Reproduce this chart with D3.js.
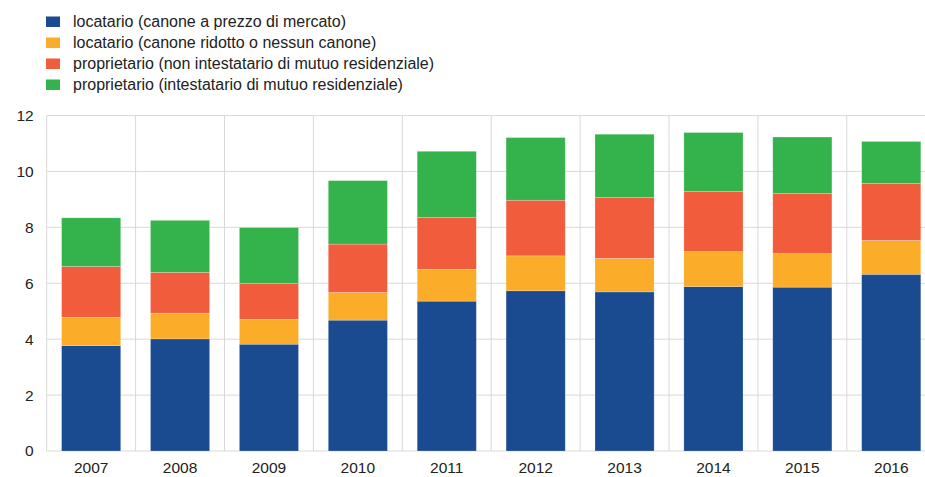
<!DOCTYPE html>
<html>
<head>
<meta charset="utf-8">
<script src="https://cdn.jsdelivr.net/npm/d3@7"></script>
<style>
  body { margin: 0; background: #fff; }
  svg { display: block; overflow: hidden; }
  text { font-family: "Liberation Sans", Arial, sans-serif; fill: #222; }
</style>
</head>
<body>
<script>
var years = ["2007", "2008", "2009", "2010", "2011", "2012", "2013", "2014", "2015", "2016"];
var seriesNames = [
  "locatario (canone a prezzo di mercato)",
  "locatario (canone ridotto o nessun canone)",
  "proprietario (non intestatario di mutuo residenziale)",
  "proprietario (intestatario di mutuo residenziale)"
];
var seriesColors = ["#1a4a8f", "#fbad2a", "#f15d3c", "#34b34c"];
var locMercato = [3.77, 4.01, 3.82, 4.68, 5.36, 5.73, 5.69, 5.88, 5.86, 6.32];
var locRidotto = [1.01, 0.92, 0.89, 0.99, 1.14, 1.25, 1.20, 1.25, 1.20, 1.21];
var propNoMutuo = [1.82, 1.46, 1.29, 1.73, 1.86, 1.99, 2.18, 2.16, 2.15, 2.04];
var propMutuo = [1.74, 1.86, 1.99, 2.27, 2.36, 2.24, 2.26, 2.10, 2.02, 1.50];
var yTicks = [0, 2, 4, 6, 8, 10, 12];

var chartWidth = 925, chartHeight = 477;
var plotLeft = 46.7, bandW = 88.9;
var plotTop = 115.5, plotBottom = 451;

var rows = years.map(function(yr, i) {
  return { year: yr, s0: locMercato[i], s1: locRidotto[i], s2: propNoMutuo[i], s3: propMutuo[i] };
});
var stack = d3.stack().keys(["s0", "s1", "s2", "s3"]);
var layers = stack(rows);

var svg = d3.select("body").append("svg")
  .attr("width", chartWidth)
  .attr("height", chartHeight);

var x = d3.scaleBand()
  .domain(years)
  .range([plotLeft, plotLeft + bandW * years.length])
  .paddingInner(0.335)
  .paddingOuter(0.1675);

var y = d3.scaleLinear()
  .domain([0, 12])
  .range([plotBottom, plotTop]);

// horizontal grid
svg.append("g").selectAll("line")
  .data(yTicks)
  .enter().append("line")
  .attr("x1", plotLeft)
  .attr("x2", plotLeft + bandW * years.length)
  .attr("y1", function(d) { return y(d); })
  .attr("y2", function(d) { return y(d); })
  .style("stroke", "#d9d9d9")
  .style("stroke-width", 1);

// vertical grid at band boundaries
var bounds = d3.range(years.length + 1);
svg.append("g").selectAll("line")
  .data(bounds)
  .enter().append("line")
  .attr("x1", function(d) { return plotLeft + d * bandW; })
  .attr("x2", function(d) { return plotLeft + d * bandW; })
  .attr("y1", y(12))
  .attr("y2", y(0))
  .style("stroke", "#d9d9d9")
  .style("stroke-width", 1);

// bars
svg.append("g").selectAll("g")
  .data(layers)
  .enter().append("g")
  .attr("fill", function(d, i) { return seriesColors[i]; })
  .selectAll("rect")
  .data(function(d) { return d; })
  .enter().append("rect")
  .attr("x", function(d) { return x(d.data.year); })
  .attr("width", x.bandwidth())
  .attr("y", function(d) { return y(d[1]); })
  .attr("height", function(d) { return y(d[0]) - y(d[1]); })
  .style("stroke", "rgba(255,255,255,0.35)")
  .style("stroke-width", 0.6);

// y axis
var yAxis = svg.append("g")
  .attr("transform", "translate(" + plotLeft + ",0)")
  .call(d3.axisLeft(y).tickValues(yTicks).tickSize(0).tickPadding(13));
yAxis.select(".domain").remove();
yAxis.selectAll("text").style("font-size", "15.5px").style("fill", "#222");

// x axis
var xAxis = svg.append("g")
  .attr("transform", "translate(0," + plotBottom + ")")
  .call(d3.axisBottom(x).tickSize(0).tickPadding(11));
xAxis.select(".domain").remove();
xAxis.selectAll("text").style("font-size", "15.5px").style("fill", "#222");

// legend
var legend = svg.append("g").selectAll("g")
  .data(seriesNames)
  .enter().append("g")
  .attr("transform", function(d, i) { return "translate(46," + (16.5 + i * 21) + ")"; });
legend.append("rect")
  .attr("width", 14)
  .attr("height", 10.5)
  .attr("fill", function(d, i) { return seriesColors[i]; });
legend.append("text")
  .attr("x", 27)
  .attr("y", 10.8)
  .style("font-size", "16px")
  .text(function(d) { return d; });
</script>
</body>
</html>
